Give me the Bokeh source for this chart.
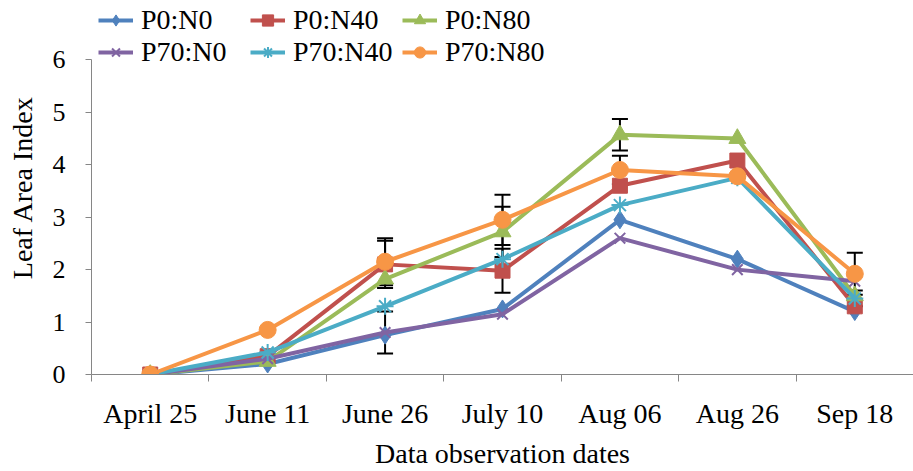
from bokeh.plotting import figure
from bokeh.models import (FixedTicker, Legend, LegendItem, Whisker, TeeHead,
                          ColumnDataSource, Range1d, LinearAxis)
from bokeh.embed import file_html
from bokeh.resources import INLINE

dates = ["April 25", "June 11", "June 26", "July 10", "Aug 06", "Aug 26", "Sep 18"]
names = ["P0:N0", "P0:N40", "P0:N80", "P70:N0", "P70:N40", "P70:N80"]

p0n0 = [0, 0.20, 0.75, 1.25, 2.95, 2.20, 1.20]
p0n40 = [0, 0.35, 2.10, 1.98, 3.60, 4.08, 1.30]
p0n80 = [0, 0.25, 1.82, 2.72, 4.57, 4.50, 1.50]
p70n0 = [0, 0.30, 0.80, 1.15, 2.60, 2.00, 1.78]
p70n40 = [0, 0.42, 1.30, 2.20, 3.23, 3.75, 1.45]
p70n80 = [0, 0.85, 2.15, 2.95, 3.90, 3.78, 1.92]

err_p0n0 = [0, 0, 0, 0, 0, 0, 0]
err_p0n40 = [0, 0, 0.45, 0.42, 0, 0, 0]
err_p0n80 = [0, 0, 0, 0.48, 0.30, 0, 0]
err_p70n0 = [0, 0, 0.40, 0, 0, 0, 0]
err_p70n40 = [0, 0, 0, 0, 0, 0, 0.15]
err_p70n80 = [0, 0, 0.45, 0.48, 0.27, 0, 0.40]

y_ticks = [0, 1, 2, 3, 4, 5, 6]

series = [p0n0, p0n40, p0n80, p70n0, p70n40, p70n80]
errs = [err_p0n0, err_p0n40, err_p0n80, err_p70n0, err_p70n40, err_p70n80]
colors = ["#4F81BD", "#C0504D", "#9BBB59", "#8064A2", "#4BACC6", "#F79646"]
markers = ["diamond", "square", "triangle", "x", "asterisk", "circle"]
msizes = [18, 15, 17, 15, 17, 17]

FONT = "Liberation Serif"
xs = [i + 0.5 for i in range(len(dates))]

# frame spans the full height above the x axis; the legend sits in its top strip
FRAME_H = 378
AXIS_TOP_PX = 60
y_top = y_ticks[-1] * FRAME_H / (FRAME_H - AXIS_TOP_PX)

p = figure(width=913, height=471, output_backend="svg", toolbar_location=None,
           x_range=Range1d(0, len(dates)), y_range=Range1d(0, y_top),
           x_axis_type=None, y_axis_type=None,
           min_border_left=91, min_border_right=0, min_border_top=0,
           min_border_bottom=93)
p.outline_line_color = None
p.xgrid.visible = False
p.ygrid.visible = False

# error bars
for vals, e in zip(series, errs):
    bx, up, lo = [], [], []
    for x, v, ee in zip(xs, vals, e):
        if ee > 0:
            bx.append(x); up.append(v + ee); lo.append(v - ee)
    if bx:
        src = ColumnDataSource(dict(x=bx, upper=up, lower=lo))
        w = Whisker(source=src, base="x", upper="upper", lower="lower",
                    line_color="black", line_width=2,
                    upper_head=TeeHead(size=16, line_color="black", line_width=2),
                    lower_head=TeeHead(size=16, line_color="black", line_width=2))
        p.add_layout(w)

items = []
for name, vals, c, m, s in zip(names, series, colors, markers, msizes):
    src = ColumnDataSource(dict(x=xs, y=vals))
    lr = p.line("x", "y", source=src, line_color=c, line_width=4)
    if m in ("x", "asterisk"):
        sr = p.scatter("x", "y", source=src, marker=m, size=s, line_color=c,
                       line_width=2)
    else:
        sr = p.scatter("x", "y", source=src, marker=m, size=s, fill_color=c,
                       line_color=c, line_width=1)
    items.append(LegendItem(label=name, renderers=[lr, sr]))

xaxis = LinearAxis(ticker=FixedTicker(ticks=xs, minor_ticks=list(range(len(dates) + 1))),
                   major_label_overrides={x: d for x, d in zip(xs, dates)},
                   axis_label="Data observation dates")
xaxis.major_tick_line_color = None
xaxis.minor_tick_in = 0
xaxis.minor_tick_out = 7
xaxis.minor_tick_line_color = "#868686"
xaxis.axis_line_color = "#868686"
xaxis.major_label_standoff = 16
xaxis.axis_label_standoff = 6
p.add_layout(xaxis, "below")

yaxis = LinearAxis(ticker=FixedTicker(ticks=y_ticks), bounds=(y_ticks[0], y_ticks[-1]),
                   axis_label="Leaf Area Index")
yaxis.major_tick_in = 0
yaxis.major_tick_out = 6
yaxis.minor_tick_line_color = None
yaxis.major_tick_line_color = "#868686"
yaxis.axis_line_color = "#868686"
yaxis.major_label_standoff = 20
yaxis.axis_label_standoff = 12
p.add_layout(yaxis, "left")

for ax in (xaxis, yaxis):
    ax.major_label_text_font = FONT
    ax.major_label_text_color = "black"
    ax.axis_label_text_font = FONT
    ax.axis_label_text_font_size = "28px"
    ax.axis_label_text_font_style = "normal"
    ax.axis_label_text_color = "black"
xaxis.major_label_text_font_size = "28px"
yaxis.major_label_text_font_size = "26px"


def make_legend(its, vy):
    return Legend(items=its, location=(7, vy), orientation="horizontal",
                  label_text_font=FONT, label_text_font_size="28px",
                  label_text_color="black", glyph_width=35, glyph_height=28,
                  label_height=28, label_width=105, label_standoff=8, spacing=4,
                  padding=2, margin=0, border_line_color=None,
                  background_fill_alpha=0)


p.add_layout(make_legend(items[:3], 338), "center")
p.add_layout(make_legend(items[3:], 306), "center")

open("out.html", "w").write(file_html(p, INLINE))
